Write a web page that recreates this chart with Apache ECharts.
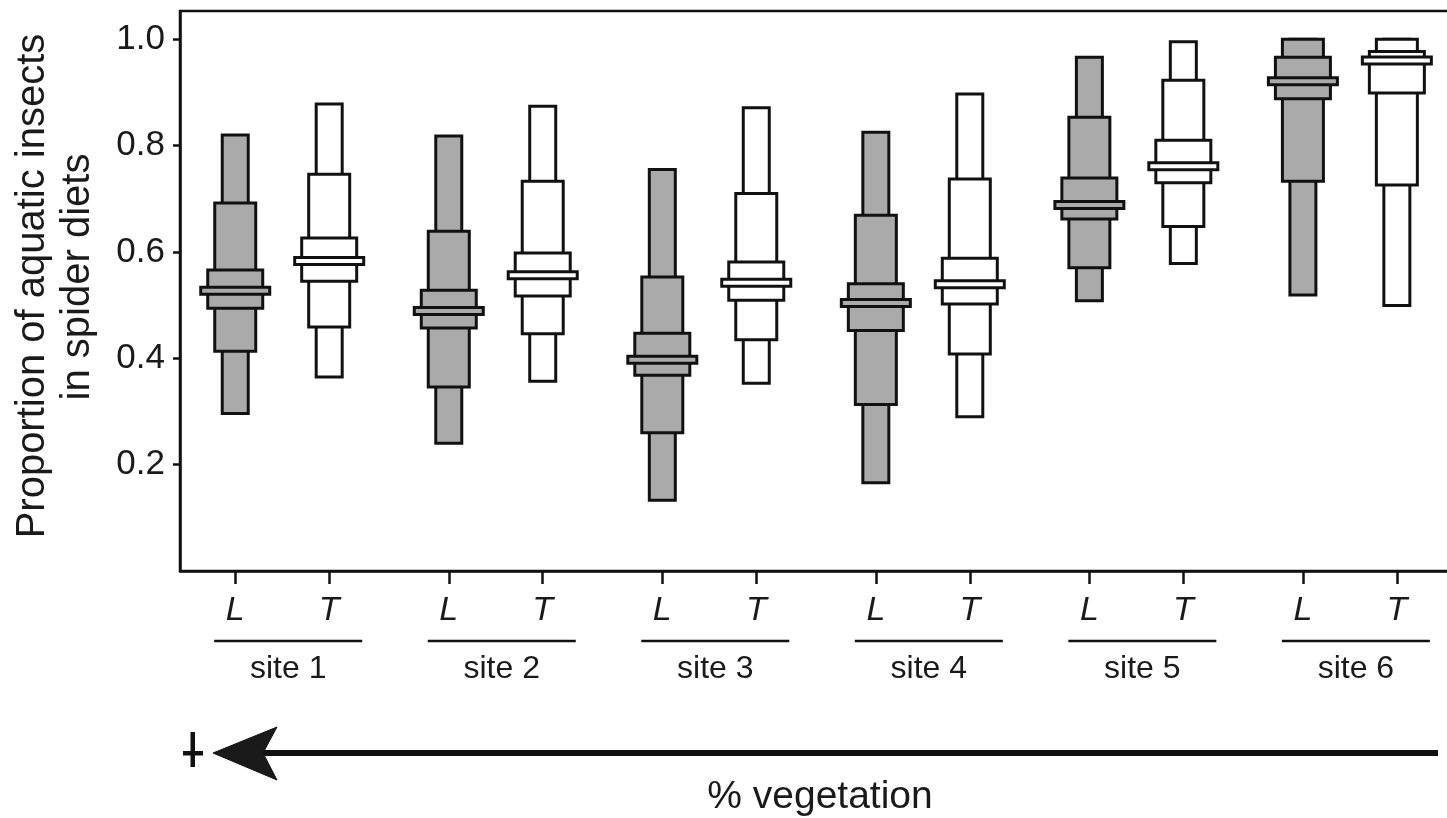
<!DOCTYPE html>
<html style="height: 100%">
  <head>
    <meta charset="utf-8" />
  </head>
  <body style="height: 100%; margin: 0; background: #fff">
    <div id="container" style="height: 100%"></div>
    <script
      type="text/javascript"
      src="https://cdn.jsdelivr.net/npm/echarts@6/dist/echarts.min.js"
    ></script>

    <script type="text/javascript">
      var dom = document.getElementById("container");
      var myChart = echarts.init(dom);

      var sites = ["site 1", "site 2", "site 3", "site 4", "site 5", "site 6"];
      var yTicks = [0.2, 0.4, 0.6, 0.8, 1.0];
      var yTitle = ["Proportion of aquatic insects", "in spider diets"];

      // L group (grey): outer interval, middle interval, inner interval, median
      var lOuterLo = [0.296, 0.240, 0.133, 0.166, 0.508, 0.519];
      var lOuterHi = [0.820, 0.818, 0.755, 0.825, 0.966, 1.0];
      var lMidLo = [0.413, 0.346, 0.260, 0.313, 0.570, 0.733];
      var lMidHi = [0.692, 0.639, 0.553, 0.669, 0.853, 1.0];
      var lInnerLo = [0.494, 0.457, 0.368, 0.452, 0.662, 0.888];
      var lInnerHi = [0.566, 0.528, 0.447, 0.540, 0.739, 0.966];
      var lMedian = [0.527, 0.489, 0.397, 0.504, 0.688, 0.921];

      // T group (white)
      var tOuterLo = [0.365, 0.357, 0.353, 0.290, 0.578, 0.499];
      var tOuterHi = [0.878, 0.874, 0.871, 0.897, 0.995, 1.0];
      var tMidLo = [0.459, 0.446, 0.435, 0.408, 0.648, 0.726];
      var tMidHi = [0.746, 0.733, 0.710, 0.737, 0.923, 1.0];
      var tInnerLo = [0.545, 0.517, 0.509, 0.502, 0.730, 0.899];
      var tInnerHi = [0.626, 0.598, 0.581, 0.588, 0.810, 0.977];
      var tMedian = [0.583, 0.556, 0.542, 0.539, 0.761, 0.960];

      var pairOffset = 0.22; // L left of site centre, T right of it
      var font = "Liberation Sans, Arial, Helvetica, sans-serif";
      var ink = "#111";
      var textColor = "#1a1a1a";

      function buildData(oLo, oHi, mLo, mHi, iLo, iHi, med) {
        return sites.map(function (s, i) {
          return [i, oLo[i], oHi[i], mLo[i], mHi[i], iLo[i], iHi[i], med[i]];
        });
      }

      function boxRender(fill, offset) {
        return function (params, api) {
          var xv = api.value(0) + offset;
          var x = api.coord([xv, 0])[0];
          var y = function (dim) {
            return api.coord([xv, api.value(dim)])[1];
          };
          var box = function (w, lo, hi) {
            return {
              type: "rect",
              shape: { x: x - w / 2, y: y(hi), width: w, height: y(lo) - y(hi) },
              style: { fill: fill, stroke: ink, lineWidth: 3 },
            };
          };
          var ym = y(7);
          return {
            type: "group",
            children: [
              box(26, 1, 2),
              box(41, 3, 4),
              box(55, 5, 6),
              {
                type: "rect",
                shape: { x: x - 34.5, y: ym - 3.5, width: 69, height: 7 },
                style: { fill: fill, stroke: ink, lineWidth: 3 },
              },
            ],
          };
        };
      }

      // underline + site name under each L/T pair
      function siteRender(params, api) {
        var i = api.value(0);
        var base = api.coord([i, 0]);
        var cx = base[0] + 6;
        return {
          type: "group",
          children: [
            {
              type: "line",
              shape: { x1: cx - 74, y1: base[1] + 70, x2: cx + 74, y2: base[1] + 70 },
              style: { stroke: ink, lineWidth: 2.5 },
            },
            {
              type: "text",
              x: cx,
              y: base[1] + 98,
              style: {
                text: sites[i],
                font: "32px " + font,
                fill: textColor,
                align: "center",
                verticalAlign: "middle",
              },
            },
          ],
        };
      }

      var xTickValues = [];
      sites.forEach(function (s, i) {
        xTickValues.push(i - pairOffset, i + pairOffset);
      });

      var option = {
        animation: false,
        grid: {
          left: 180,
          top: 11,
          width: 1298,
          height: 560,
          outerBoundsMode: "none",
          containLabel: false,
          show: true,
          borderColor: ink,
          borderWidth: 2.5,
        },
        xAxis: {
          type: "value",
          min: -0.4787,
          max: 5.6,
          axisLine: { show: true, onZero: false, lineStyle: { color: ink, width: 2.5 } },
          splitLine: { show: false },
          axisTick: {
            show: true,
            customValues: xTickValues,
            length: 13,
            lineStyle: { color: ink, width: 2.5 },
          },
          axisLabel: {
            show: true,
            customValues: xTickValues,
            margin: 23,
            fontSize: 34,
            fontStyle: "italic",
            fontFamily: font,
            color: textColor,
            formatter: function (v) {
              return v < Math.round(v) ? "L" : "T";
            },
          },
        },
        yAxis: {
          type: "value",
          min: 0,
          max: 1.053,
          axisLine: { show: true, onZero: false, lineStyle: { color: ink, width: 2.5 } },
          splitLine: { show: false },
          axisTick: {
            show: true,
            customValues: yTicks,
            length: 7,
            lineStyle: { color: ink, width: 2.5 },
          },
          axisLabel: {
            customValues: yTicks,
            margin: 15,
            fontSize: 35,
            fontFamily: font,
            color: textColor,
            formatter: function (v) {
              return v.toFixed(1);
            },
          },
        },
        graphic: [
          {
            type: "text",
            x: 33,
            y: 286,
            rotation: Math.PI / 2,
            style: {
              text: yTitle[0],
              font: "40px " + font,
              fill: textColor,
              align: "center",
              verticalAlign: "middle",
            },
          },
          {
            type: "text",
            x: 78,
            y: 277,
            rotation: Math.PI / 2,
            style: {
              text: yTitle[1],
              font: "40px " + font,
              fill: textColor,
              align: "center",
              verticalAlign: "middle",
            },
          },
          {
            type: "line",
            shape: { x1: 262, y1: 753, x2: 1438, y2: 753 },
            style: { stroke: ink, lineWidth: 6 },
          },
          {
            type: "polygon",
            shape: { points: [[213, 753], [277, 727], [263, 753], [277, 780]] },
            style: { fill: "#1a1a1a", stroke: ink, lineWidth: 1 },
          },
          {
            type: "rect",
            shape: { x: 190.5, y: 732, width: 4.5, height: 35 },
            style: { fill: ink },
          },
          {
            type: "rect",
            shape: { x: 183, y: 751, width: 20, height: 4.5 },
            style: { fill: ink },
          },
          {
            type: "text",
            x: 820,
            y: 797,
            style: {
              text: "% vegetation",
              font: "39px " + font,
              fill: textColor,
              align: "center",
              verticalAlign: "middle",
            },
          },
        ],
        series: [
          {
            name: "L",
            type: "custom",
            renderItem: boxRender("#aaaaaa", -pairOffset),
            encode: { x: 0, y: [1, 2, 3, 4, 5, 6, 7] },
            data: buildData(lOuterLo, lOuterHi, lMidLo, lMidHi, lInnerLo, lInnerHi, lMedian),
          },
          {
            name: "T",
            type: "custom",
            renderItem: boxRender("#ffffff", pairOffset),
            encode: { x: 0, y: [1, 2, 3, 4, 5, 6, 7] },
            data: buildData(tOuterLo, tOuterHi, tMidLo, tMidHi, tInnerLo, tInnerHi, tMedian),
          },
          {
            name: "sites",
            type: "custom",
            clip: false,
            silent: true,
            renderItem: siteRender,
            encode: { x: 0, y: 1 },
            data: sites.map(function (s, i) {
              return [i, 0];
            }),
          },
        ],
      };

      myChart.setOption(option);
    </script>
  </body>
</html>
